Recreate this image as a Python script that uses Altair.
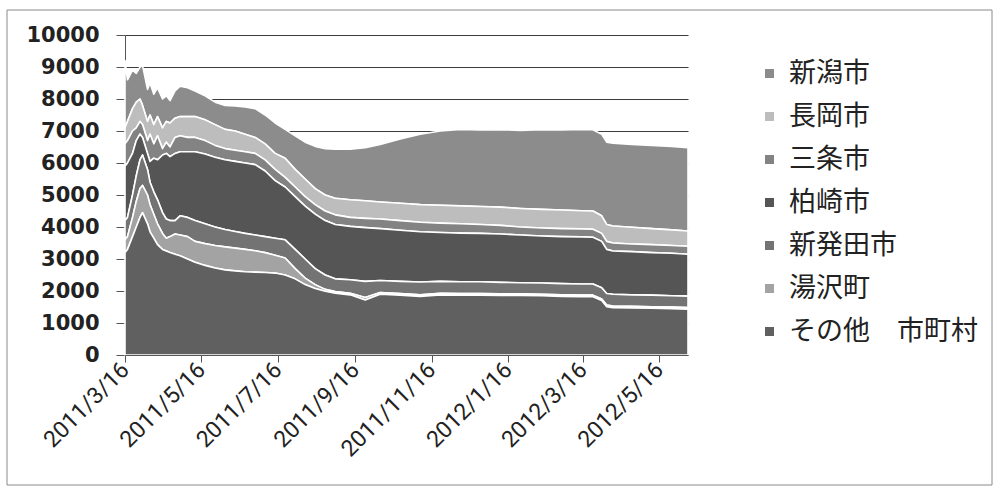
import altair as alt
import pandas as pd

dates = [
    "2011-03-16", "2011-03-18", "2011-03-22", "2011-03-25", "2011-03-28", "2011-03-30",
    "2011-04-03", "2011-04-05", "2011-04-08", "2011-04-11", "2011-04-15", "2011-04-18",
    "2011-04-21", "2011-04-25", "2011-04-29", "2011-05-05", "2011-05-11", "2011-05-19",
    "2011-05-27", "2011-06-04", "2011-06-12", "2011-06-20", "2011-06-28", "2011-07-06",
    "2011-07-14", "2011-07-22", "2011-07-30", "2011-08-07", "2011-08-15", "2011-08-23",
    "2011-08-31", "2011-09-12", "2011-09-24", "2011-10-06", "2011-10-22", "2011-11-07",
    "2011-11-23", "2011-12-09", "2011-12-25", "2012-01-10", "2012-01-26", "2012-02-12",
    "2012-02-28", "2012-03-15", "2012-03-24", "2012-03-31", "2012-04-04", "2012-04-09",
    "2012-04-24", "2012-05-10", "2012-05-26", "2012-06-08",
]

other = [3200, 3300, 3700, 4000, 4300, 4450, 4100, 3850, 3650, 3450, 3300, 3250, 3200, 3150, 3100,
         3000, 2900, 2800, 2720, 2660, 2630, 2600, 2590, 2580, 2560, 2500, 2380, 2200, 2080, 1990,
         1930, 1880, 1720, 1900, 1870, 1830, 1880, 1870, 1870, 1860, 1860, 1850, 1830, 1820, 1820,
         1700, 1510, 1480, 1470, 1460, 1450, 1430]
yuzawa = [400, 400, 600, 800, 900, 850, 900, 850, 750, 650, 500, 400, 500, 630, 650,
          700, 650, 680, 700, 720, 710, 700, 670, 620, 560, 530, 320, 200, 120, 60,
          50, 50, 80, 50, 50, 50, 50, 50, 50, 50, 50, 50, 50, 50, 50,
          50, 50, 50, 50, 50, 50, 50]
shibata = [600, 600, 700, 800, 900, 950, 800, 700, 700, 750, 650, 600, 500, 420, 600,
           600, 650, 620, 580, 540, 520, 500, 490, 500, 530, 570, 600, 600, 500, 450,
           400, 420, 500, 380, 380, 400, 370, 370, 370, 360, 350, 350, 350, 350, 350,
           350, 360, 370, 360, 360, 350, 360]
kashiwazaki = [1700, 1700, 1300, 1100, 800, 550, 500, 650, 1050, 1250, 1800, 2050, 2000, 2100, 2000,
               2050, 2150, 2180, 2180, 2180, 2190, 2200, 2200, 2050, 1800, 1650, 1650, 1650, 1700, 1700,
               1700, 1670, 1680, 1620, 1600, 1570, 1530, 1520, 1510, 1510, 1490, 1470, 1470, 1470, 1460,
               1450, 1380, 1350, 1350, 1330, 1330, 1310]
sanjo = [700, 700, 700, 400, 400, 400, 400, 850, 450, 750, 200, 350, 300, 500, 500,
         450, 450, 420, 370, 350, 350, 350, 350, 350, 350, 300, 300, 300, 300, 300,
         300, 280, 290, 300, 300, 300, 290, 290, 280, 270, 250, 250, 250, 250, 250,
         250, 250, 250, 240, 250, 240, 250]
nagaoka = [500, 600, 700, 800, 700, 600, 600, 600, 600, 600, 650, 650, 750, 600, 600,
           650, 650, 650, 650, 600, 600, 550, 500, 500, 500, 600, 550, 550, 500, 500,
           520, 550, 550, 530, 540, 550, 560, 560, 560, 570, 580, 580, 580, 570, 570,
           550, 530, 530, 520, 500, 490, 475]
niigata = [2100, 1300, 1200, 900, 1000, 1250, 1000, 1000, 950, 900, 900, 800, 700, 850, 950,
           900, 800, 750, 700, 750, 780, 850, 900, 900, 950, 900, 1050, 1150, 1320, 1450,
           1530, 1580, 1660, 1800, 2010, 2200, 2320, 2390, 2390, 2420, 2440, 2490, 2500, 2540, 2540,
           2550, 2570, 2590, 2590, 2600, 2610, 2605]

series_names = ["新潟市", "長岡市", "三条市", "柏崎市", "新発田市", "湯沢町", "その他　市町村"]
series_values = [niigata, nagaoka, sanjo, kashiwazaki, shibata, yuzawa, other]
series_colors = ["#8c8c8c", "#bdbdbd", "#838383", "#555555", "#737373", "#a3a3a3", "#606060"]

tick_dates = [(2011, 3, 16), (2011, 5, 16), (2011, 7, 16), (2011, 9, 16),
              (2011, 11, 16), (2012, 1, 16), (2012, 3, 16), (2012, 5, 16)]
y_ticks = [0, 1000, 2000, 3000, 4000, 5000, 6000, 7000, 8000, 9000, 10000]

rows = []
n = len(series_names)
for k, (name, vals) in enumerate(zip(series_names, series_values)):
    assert len(vals) == len(dates)
    for d, v in zip(dates, vals):
        rows.append({"date": d, "series": name, "value": v, "order": n - 1 - k})
df = pd.DataFrame(rows)


def dt(t):
    return alt.DateTime(year=t[0], month=t[1], date=t[2], utc=True)


area = alt.Chart(df).mark_area(
    stroke="white", strokeWidth=1.6, interpolate="linear", strokeJoin="round"
).encode(
    x=alt.X(
        "date:T",
        scale=alt.Scale(type="utc", domain=[dt((2011, 3, 16)), dt((2012, 6, 8))], nice=False),
        axis=alt.Axis(
            title=None,
            values=[dt(t) for t in tick_dates],
            labelExpr="utcFormat(datum.value, '%Y') + '/' + (utcmonth(datum.value) + 1) + '/' + utcdate(datum.value)",
            labelAngle=-45,
            labelAlign="right",
            labelBaseline="middle",
            labelFont="Roboto",
            labelFontSize=23,
            labelColor="#222222",
            labelPadding=4,
            labelOverlap=False,
            labelFlush=False,
            labelBound=False,
            tickSize=7,
            tickColor="#555555",
            domainColor="#555555",
            grid=False,
            zindex=1,
        ),
    ),
    y=alt.Y(
        "value:Q",
        stack="zero",
        scale=alt.Scale(domain=[0, 10000], nice=False),
        axis=alt.Axis(
            title=None,
            values=y_ticks,
            format="d",
            labelFont="DejaVu Sans",
            labelFontWeight="bold",
            labelFontSize=21,
            labelColor="#222222",
            labelPadding=17,
            tickSize=9,
            tickColor="#555555",
            domainColor="#555555",
            grid=True,
            gridColor="#3c3c3c",
            gridWidth=1,
        ),
    ),
    color=alt.Color(
        "series:N",
        scale=alt.Scale(domain=series_names, range=series_colors),
        legend=alt.Legend(
            title=None,
            orient="none",
            legendX=631,
            legendY=25,
            symbolType="square",
            symbolSize=81,
            symbolStrokeWidth=0,
            labelFont="Noto Sans CJK JP",
            labelFontSize=27,
            labelColor="#222222",
            labelOffset=6,
            labelLimit=400,
            rowPadding=15,
            padding=0,
        ),
    ),
    order=alt.Order("order:Q", sort="ascending"),
)

frame = alt.Chart(pd.DataFrame({"k": [0]})).mark_rect(
    filled=False, stroke="#8a8a8a", strokeWidth=1
).encode(
    x=alt.value(-118), x2=alt.value(867), y=alt.value(-25), y2=alt.value(450)
)

chart = alt.layer(frame, area).properties(
    width=563,
    height=320,
    autosize=alt.AutoSizeParams(type="none"),
    padding={"left": 125, "top": 35, "right": 309, "bottom": 132},
    background="white",
).configure_view(strokeWidth=0)

chart.save("out.html", embed_options={"renderer": "svg", "actions": False})
